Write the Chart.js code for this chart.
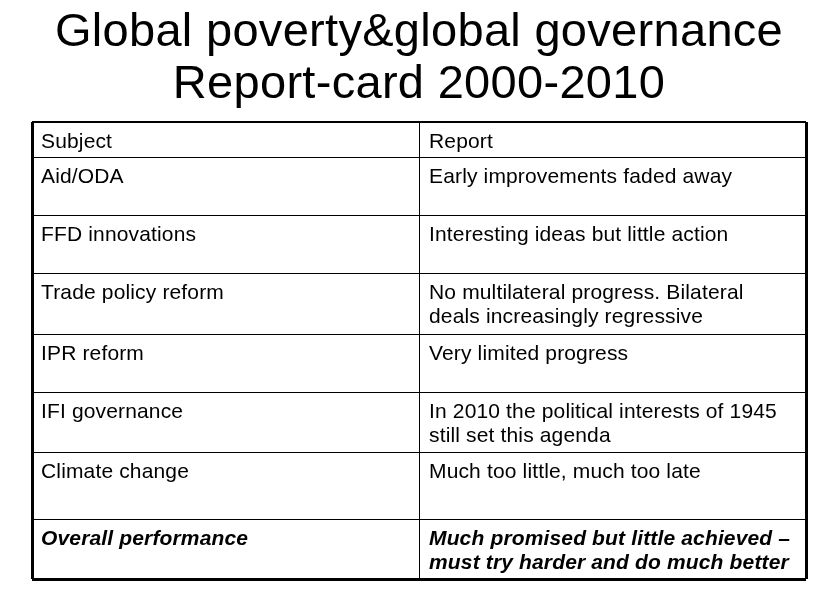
<!DOCTYPE html>
<html>
<head>
<meta charset="utf-8">
<title>Report-card 2000-2010</title>
<script src="https://cdn.jsdelivr.net/npm/chart.js@4/dist/chart.umd.min.js"></script>
<style>
  html, body { margin: 0; padding: 0; background: #fff; }
  #wrap { width: 830px; height: 597px; }
</style>
</head>
<body>
<div id="wrap"><canvas id="tableChart" width="830" height="597"></canvas></div>
<script>
// Contenu du tableau (une entrée par ligne, la première est l'en-tête)
const subjects = [
    'Subject',
    'Aid/ODA',
    'FFD innovations',
    'Trade policy reform',
    'IPR reform',
    'IFI governance',
    'Climate change',
    'Overall performance'
];
const reports = [
    ['Report'],
    ['Early improvements faded away'],
    ['Interesting ideas but little action'],
    ['No multilateral progress. Bilateral', 'deals increasingly regressive'],
    ['Very limited progress'],
    ['In 2010 the political interests of 1945', 'still set this agenda'],
    ['Much too little, much too late'],
    ['Much promised but little achieved \u2013', 'must try harder and do much better']
];
const titleLines = ['Global poverty&global governance', 'Report-card 2000-2010'];

// Mise en page : hauteur relative de chaque ligne du tableau
const rowUnits = [35, 58, 58, 61, 58, 60, 67, 60];
const rowEdges = [0];
rowUnits.forEach(u => rowEdges.push(rowEdges[rowEdges.length - 1] + u));
const colEdges = [0, 1, 2];

const FONT = '"Liberation Sans", Arial, Helvetica, sans-serif';
Chart.defaults.font.family = FONT;
Chart.defaults.color = '#000';

// Plugin qui écrit le titre et le texte des cellules à partir des échelles
const cellText = {
    id: 'cellText',
    afterDraw(chart) {
        const ctx = chart.ctx;
        const xs = chart.scales.x;
        const ys = chart.scales.y;
        const last = subjects.length - 1;
        ctx.save();
        ctx.fillStyle = '#000';
        ctx.textBaseline = 'alphabetic';

        // Titre (centré sur la séparation des colonnes)
        ctx.textAlign = 'center';
        ctx.font = '47px ' + FONT;
        ctx.letterSpacing = '0.3px';
        const cx = xs.getPixelForValue(colEdges[1]);
        titleLines.forEach((line, k) => {
            ctx.fillText(line, cx, 46 + k * 52);
        });

        // Cellules
        ctx.textAlign = 'left';
        ctx.letterSpacing = '0.15px';
        subjects.forEach((subj, i) => {
            const top = ys.getPixelForValue(rowEdges[i]);
            const style = i === last ? 'italic bold ' : '';
            ctx.font = style + '21px ' + FONT;
            ctx.fillText(subj, xs.getPixelForValue(colEdges[0]) + 9, top + 26);
            reports[i].forEach((line, k) => {
                ctx.fillText(line, xs.getPixelForValue(colEdges[1]) + 10, top + 26 + k * 24);
            });
        });
        ctx.restore();
    }
};

const ctx = document.getElementById('tableChart').getContext('2d');
const tableChart = new Chart(ctx, {
    type: 'scatter',
    data: { datasets: [{ data: [] }] },
    options: {
        responsive: false,
        animation: false,
        layout: { padding: { left: 32, right: 24, top: 122, bottom: 18 } },
        plugins: {
            legend: { display: false },
            tooltip: { enabled: false },
            title: { display: false }
        },
        scales: {
            x: {
                type: 'linear',
                min: colEdges[0],
                max: colEdges[colEdges.length - 1],
                afterBuildTicks: (scale) => { scale.ticks = colEdges.map(v => ({ value: v })); },
                ticks: { display: false },
                border: { display: false },
                grid: {
                    drawTicks: false,
                    color: '#000',
                    lineWidth: (c) => (c.index === 0 || c.index === colEdges.length - 1) ? 3 : 1
                }
            },
            y: {
                type: 'linear',
                reverse: true,
                min: rowEdges[0],
                max: rowEdges[rowEdges.length - 1],
                afterBuildTicks: (scale) => { scale.ticks = rowEdges.map(v => ({ value: v })); },
                ticks: { display: false },
                border: { display: false },
                grid: {
                    drawTicks: false,
                    color: '#000',
                    lineWidth: (c) => c.index === 0 ? 2 : (c.index === rowEdges.length - 1 ? 3 : 1)
                }
            }
        }
    },
    plugins: [cellText]
});
</script>
</body>
</html>
